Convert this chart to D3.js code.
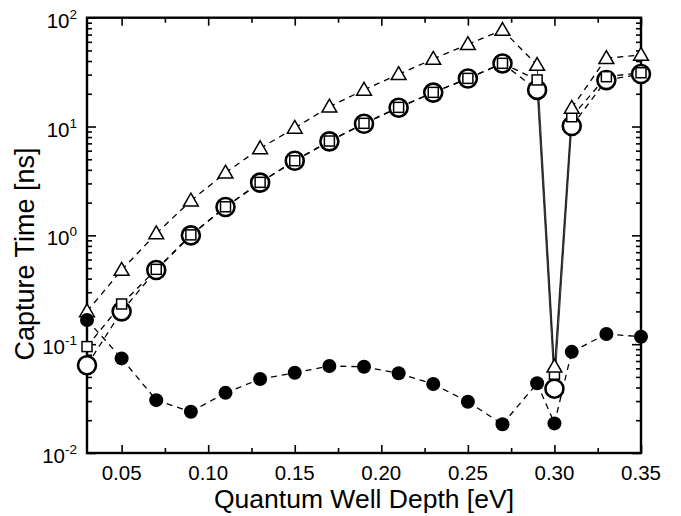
<!DOCTYPE html>
<html>
<head>
<meta charset="utf-8">
<script src="https://cdn.jsdelivr.net/npm/d3@7"></script>
<style>
  html, body { margin: 0; padding: 0; background: #fff; }
  svg { display: block; font-family: "Liberation Sans", Arial, Helvetica, sans-serif; }
</style>
</head>
<body>
<svg id="chart" width="681" height="516"></svg>
<script>
// Well depth (eV) at which capture times were computed
const depth = [0.03, 0.05, 0.07, 0.09, 0.11, 0.13, 0.15, 0.17, 0.19, 0.21, 0.23, 0.25, 0.27, 0.29, 0.30, 0.31, 0.33, 0.35];

// Capture times (ns) for each series
const triangleTimes = [0.20, 0.48, 1.04, 2.08, 3.76, 6.3, 9.7, 15.2, 21.7, 30.2, 41.7, 57, 77, 36.7, 0.062, 14.8, 42.4, 45.4];
const squareTimes   = [0.095, 0.234, 0.487, 1.01, 1.83, 3.07, 4.85, 7.36, 10.7, 15.0, 20.6, 27.7, 38.1, 26.8, 0.053, 12.3, 28.7, 31.2];
const openCircleTimes = [0.064, 0.20, 0.48, 1.0, 1.82, 3.05, 4.85, 7.3, 10.6, 14.9, 20.5, 27.6, 38.0, 21.7, 0.039, 10.1, 26.7, 30.4];
const filledCircleTimes = [0.167, 0.074, 0.0306, 0.0239, 0.0357, 0.0478, 0.0546, 0.063, 0.062, 0.054, 0.043, 0.0296, 0.0184, 0.0437, 0.0187, 0.085, 0.124, 0.117];

// Axis ticks
const xMajorTicks = [0.05, 0.10, 0.15, 0.20, 0.25, 0.30, 0.35];
const xTickLabels = ["0.05", "0.10", "0.15", "0.20", "0.25", "0.30", "0.35"];
const xMinorTicks = [0.075, 0.125, 0.175, 0.225, 0.275, 0.325];
const yDecades = [-2, -1, 0, 1, 2];

const svg = d3.select("#chart");
const plotLeft = 87, plotRight = 641, plotTop = 17.7, plotBottom = 453;

const x = d3.scaleLinear().domain([0.03, 0.35]).range([plotLeft, plotRight]);
const y = d3.scaleLog().domain([0.01, 100]).range([plotBottom, plotTop]);

const yMinor = [];
for (let e = -2; e < 2; e++) for (let m = 2; m <= 9; m++) yMinor.push(m * Math.pow(10, e));
const yMajor = yDecades.map(e => Math.pow(10, e));

// Inward ticks on all four sides
function tickGroup(axis, tx, ty) {
  const g = svg.append("g").attr("transform", `translate(${tx},${ty})`).call(axis);
  g.select(".domain").remove();
  g.selectAll("line").attr("stroke", "#000").attr("stroke-width", 1.6);
  g.selectAll("text").remove();
  return g;
}
tickGroup(d3.axisBottom(x).tickValues(xMajorTicks).tickSize(-8), 0, plotBottom);
tickGroup(d3.axisBottom(x).tickValues(xMinorTicks).tickSize(-5), 0, plotBottom);
tickGroup(d3.axisTop(x).tickValues(xMajorTicks).tickSize(-8), 0, plotTop);
tickGroup(d3.axisTop(x).tickValues(xMinorTicks).tickSize(-5), 0, plotTop);
tickGroup(d3.axisLeft(y).tickValues(yMajor).tickSize(-9), plotLeft, 0);
tickGroup(d3.axisLeft(y).tickValues(yMinor).tickSize(-5), plotLeft, 0);
tickGroup(d3.axisRight(y).tickValues(yMajor).tickSize(-9), plotRight, 0);
tickGroup(d3.axisRight(y).tickValues(yMinor).tickSize(-5), plotRight, 0);

// Frame
svg.append("rect")
  .attr("x", plotLeft).attr("y", plotTop)
  .attr("width", plotRight - plotLeft).attr("height", plotBottom - plotTop)
  .attr("fill", "none").attr("stroke", "#000").attr("stroke-width", 2.4);

// X tick labels
svg.append("g").selectAll("text")
  .data(xMajorTicks)
  .join("text")
  .attr("x", d => x(d))
  .attr("y", 480)
  .attr("text-anchor", "middle")
  .attr("font-size", 20.5)
  .attr("fill", "#000")
  .text((d, i) => xTickLabels[i]);

// Y tick labels as powers of ten
const yl = svg.append("g").selectAll("text")
  .data(yDecades)
  .join("text")
  .attr("x", 77)
  .attr("y", d => y(Math.pow(10, d)) + 10)
  .attr("text-anchor", "end")
  .attr("font-size", 20.5)
  .attr("fill", "#000");
yl.append("tspan").text("10");
yl.append("tspan").attr("font-size", 13.5).attr("dy", -9).text(d => String(d));

// Axis titles
svg.append("text")
  .attr("x", (plotLeft + plotRight) / 2).attr("y", 508)
  .attr("text-anchor", "middle")
  .attr("font-size", 26.5)
  .attr("fill", "#000")
  .text("Quantum Well Depth [eV]");

svg.append("text")
  .attr("transform", "translate(34,254) rotate(-90)")
  .attr("text-anchor", "middle")
  .attr("font-size", 27)
  .attr("fill", "#000")
  .text("Capture Time [ns]");

// Connecting lines: dashed, with the steep dip drawn as thin solid lines for the open-symbol series
const lineLayer = svg.append("g");
function drawLines(values, solidDip) {
  const pts = depth.map((d, i) => [x(d), y(values[i])]);
  for (let i = 0; i < pts.length - 1; i++) {
    const inDip = solidDip && depth[i] >= 0.289 && depth[i + 1] <= 0.311;
    lineLayer.append("line")
      .attr("x1", pts[i][0]).attr("y1", pts[i][1])
      .attr("x2", pts[i + 1][0]).attr("y2", pts[i + 1][1])
      .attr("stroke", "#000")
      .attr("stroke-width", inDip ? 0.8 : 1.3)
      .attr("stroke-dasharray", inDip ? null : "6,5");
  }
}
drawLines(openCircleTimes, true);
drawLines(squareTimes, true);
drawLines(triangleTimes, true);
drawLines(filledCircleTimes, false);

// Markers
const markLayer = svg.append("g");
markLayer.selectAll("circle.open")
  .data(depth)
  .join("circle")
  .attr("class", "open")
  .attr("cx", d => x(d))
  .attr("cy", (d, i) => y(openCircleTimes[i]))
  .attr("r", 9)
  .attr("fill", "#fff")
  .attr("stroke", "#000")
  .attr("stroke-width", 2.6);

const sq = 10;
markLayer.selectAll("rect.sq")
  .data(depth)
  .join("rect")
  .attr("class", "sq")
  .attr("x", d => x(d) - sq / 2)
  .attr("y", (d, i) => y(squareTimes[i]) - sq / 2)
  .attr("width", sq).attr("height", sq)
  .attr("fill", "#fff")
  .attr("stroke", "#000")
  .attr("stroke-width", 1.5);

const tri = d3.symbol().type(d3.symbolTriangle).size(95);
markLayer.selectAll("path.tri")
  .data(depth)
  .join("path")
  .attr("class", "tri")
  .attr("transform", (d, i) => `translate(${x(d)},${y(triangleTimes[i]) + 1})`)
  .attr("d", tri)
  .attr("fill", "#fff")
  .attr("stroke", "#000")
  .attr("stroke-width", 1.5);

markLayer.selectAll("circle.filled")
  .data(depth)
  .join("circle")
  .attr("class", "filled")
  .attr("cx", d => x(d))
  .attr("cy", (d, i) => y(filledCircleTimes[i]))
  .attr("r", 7)
  .attr("fill", "#000");
</script>
</body>
</html>
